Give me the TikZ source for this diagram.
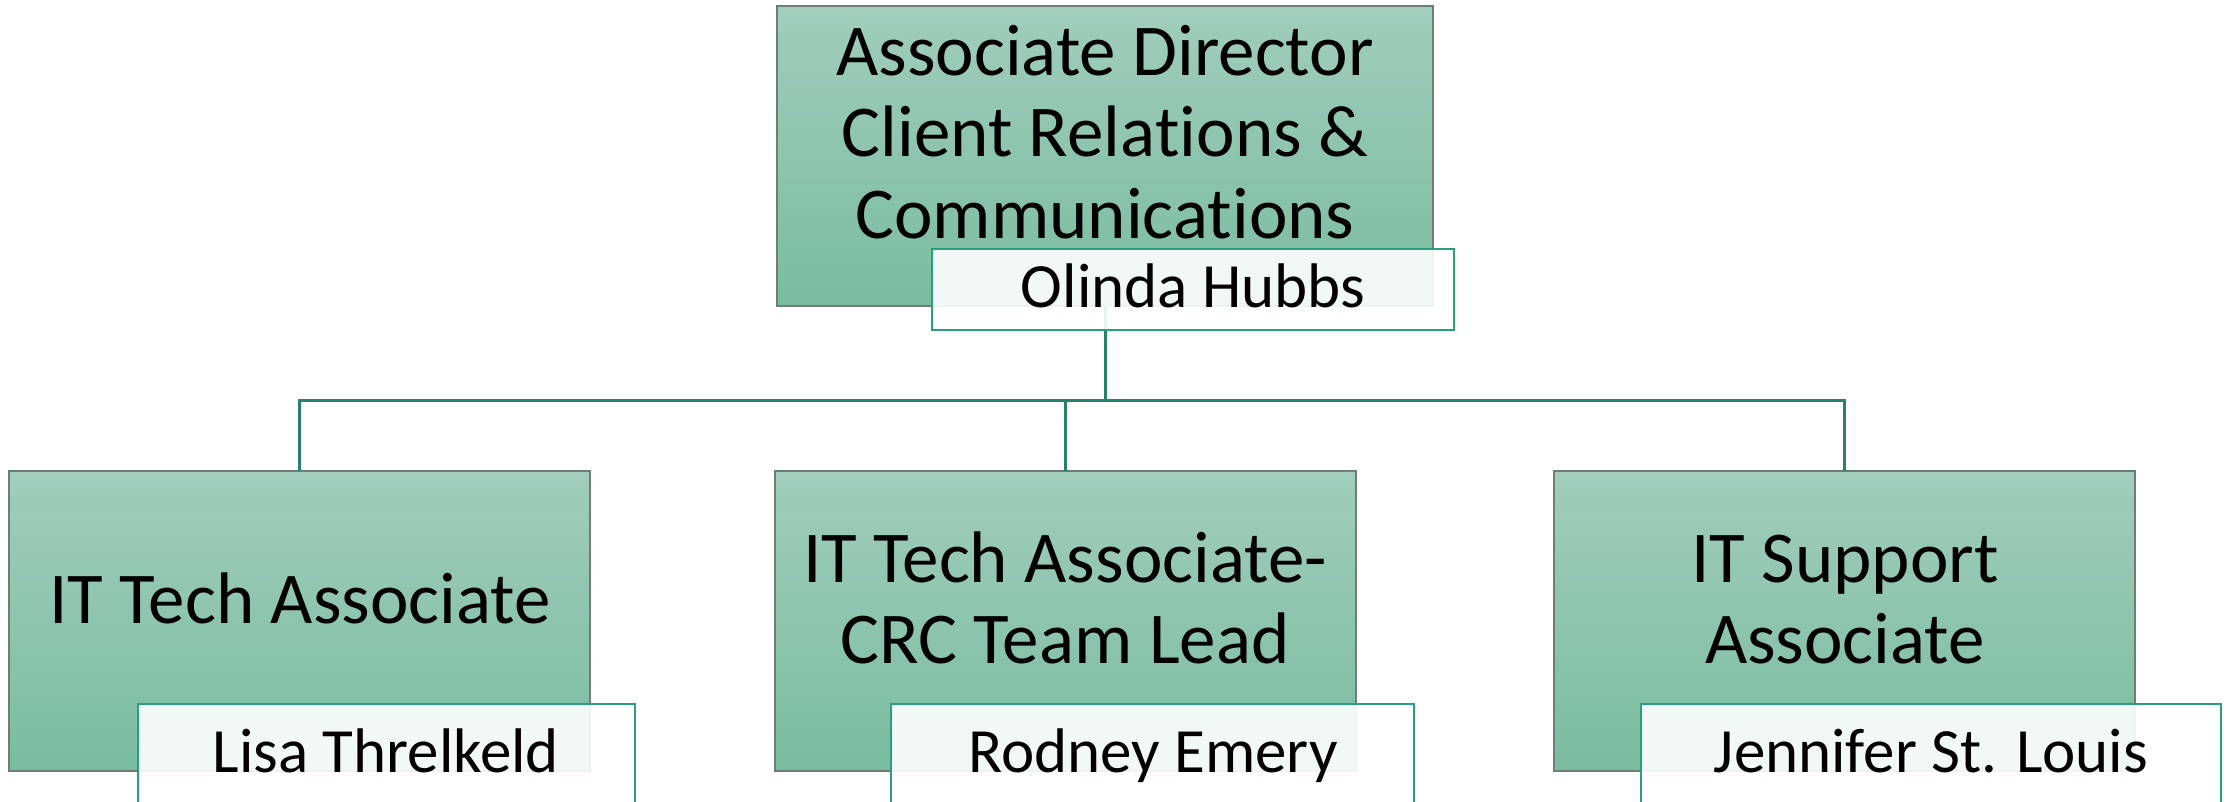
\documentclass[tikz,border=0pt]{standalone}
\usepackage{fontspec}
\setmainfont{Carlito}[Ligatures={CommonOff,ContextualOff}]
\newcommand{\nolig}{\kern0pt}
\definecolor{boxtop}{RGB}{161,205,189}
\definecolor{boxbot}{RGB}{122,188,160}
\definecolor{boxedge}{RGB}{112,125,119}
\definecolor{nameedge}{RGB}{40,160,125}
\definecolor{conn}{RGB}{38,130,104}
\tikzset{
  rolebox/.style={draw=boxedge, line width=1.5pt, top color=boxtop, bottom color=boxbot,
    inner sep=0pt, outer sep=0pt},
  namebox/.style={draw=nameedge, line width=2pt, fill=white, fill opacity=0.9,
    inner sep=0pt, outer sep=0pt},
  roletext/.style={anchor=base, inner sep=0pt, text=black,
    font=\fontsize{73}{81.5}\selectfont},
  nametext/.style={anchor=base, inner sep=0pt, text=black,
    font=\fontsize{63}{70}\selectfont},
  link/.style={draw=conn, line width=3pt}
}
\begin{document}
\begin{tikzpicture}[x=1pt,y=-1pt]
\clip (0,0) rectangle (2228,801);
\fill[white] (0,0) rectangle (2228,801);
% role boxes
\node[rolebox, minimum width=656pt, minimum height=300pt] (top) at (1105,156) {};
\node[rolebox, minimum width=581pt, minimum height=300pt] (c1) at (299.5,621) {};
\node[rolebox, minimum width=581pt, minimum height=300pt] (c2) at (1065.5,621) {};
\node[rolebox, minimum width=581pt, minimum height=300pt] (c3) at (1844.5,621) {};
% connectors
\coordinate (j) at (1105,400);
\draw[link] (top.south) -- (j);
\draw[link] (j) -| (c1.north);
\draw[link] (j) -| (c2.north);
\draw[link] (j) -| (c3.north);
% name boxes
\node[namebox, minimum width=522pt, minimum height=81pt] (n0) at (1193,289.5) {};
\node[namebox, minimum width=497pt, minimum height=130pt] (n1) at (386.5,769) {};
\node[namebox, minimum width=523pt, minimum height=130pt] (n2) at (1152.5,769) {};
\node[namebox, minimum width=580pt, minimum height=130pt] (n3) at (1931,769) {};
% role texts
\node[roletext] (t0) at (1105,75) {\begin{tabular}[t]{@{}c@{}}Associate Director\\Client Rela\nolig tions \&\\Communica\nolig tions\end{tabular}};
\node[roletext] (t1) at (300,623) {IT Tech Associate};
\node[roletext] (t2) at (1065,582) {\begin{tabular}[t]{@{}c@{}}IT Tech Associate-\\CRC Team Lead\end{tabular}};
\node[roletext] (t3) at (1845,582) {\begin{tabular}[t]{@{}c@{}}IT Support\\Associate\end{tabular}};
% name texts
\node[nametext] (m0) at (1193,307) {Olinda Hubbs};
\node[nametext] (m1) at (386,772) {Lisa Threlkeld};
\node[nametext] (m2) at (1153,772) {Rodney Emery};
\node[nametext] (m3) at (1931,772) {Jennifer St. Louis};
\end{tikzpicture}
\end{document}
